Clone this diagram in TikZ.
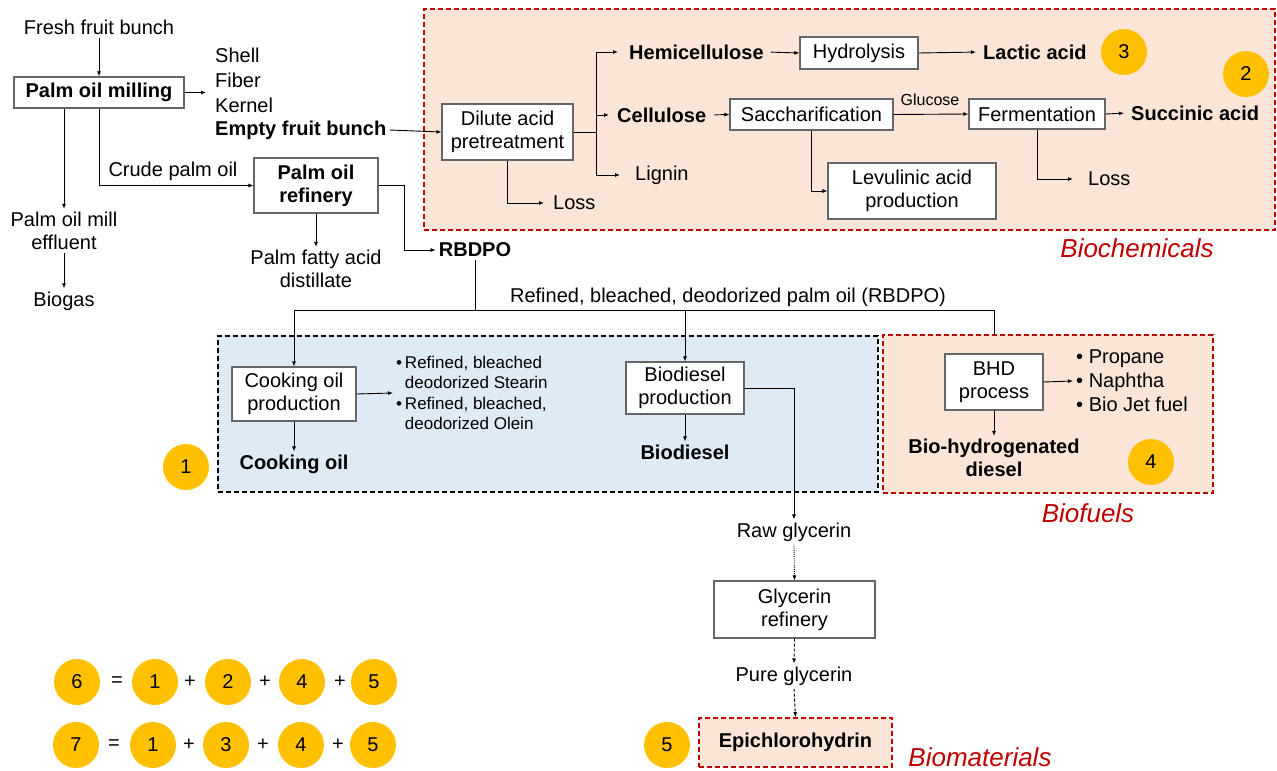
\documentclass[tikz,border=0pt]{standalone}
\usepackage{fontspec}
\setmainfont{Liberation Sans}
\usetikzlibrary{arrows.meta}
\definecolor{peach}{HTML}{FBE5D6}
\definecolor{lblue}{HTML}{DEEBF7}
\definecolor{dred}{HTML}{C00000}
\definecolor{gold}{HTML}{FFC000}
\newcommand\myfs{\fontsize{20}{23}\selectfont}
\newcommand\mysmall{\fontsize{17}{20.5}\selectfont}
\begin{document}
\begin{tikzpicture}[x=1pt,y=-1pt,
 font=\myfs,
 arr/.style={-{Latex[length=5pt,width=4pt]}, line width=0.9pt},
 ln/.style={line width=0.9pt},
 box/.style={draw=black!60, line width=1.1pt, fill=white, align=center, inner sep=0pt},
 lbl/.style={inner sep=3pt, align=center},
 bld/.style={lbl, font=\myfs\bfseries},
 circ/.style={circle, fill=gold, minimum size=46pt, inner sep=0pt},
 grp/.style={line width=1.8pt, dash pattern=on 5pt off 3pt, inner sep=0pt},
 cat/.style={text=dred, font=\fontsize{26}{30}\selectfont\itshape},
]
\useasboundingbox (0,0) rectangle (1277,771);

% group containers
\node[grp, draw=dred, fill=peach, minimum width=851pt, minimum height=221pt] (chembox) at (849.5,119.5) {};
\node[grp, draw=black, fill=lblue, minimum width=660pt, minimum height=156pt] (oilbox) at (548,414) {};
\node[grp, draw=dred, fill=peach, minimum width=330pt, minimum height=158pt] (fuelbox) at (1048,414) {};
\node[grp, draw=dred, fill=peach, minimum width=193pt, minimum height=49pt, font=\myfs\bfseries] (epi) at (795.5,742.5) {Epichlorohydrin};

% category labels
\node[cat] (catchem) at (1137,248) {Biochemicals};
\node[cat] (catfuel) at (1088,513) {Biofuels};
\node[cat] (catmat) at (980,757) {Biomaterials};

% milling area
\node[lbl] (ffb) at (99,27) {Fresh fruit bunch};
\node[box, minimum width=170pt, minimum height=31pt, font=\myfs\bfseries] (mill) at (99,92.5) {Palm oil milling};
\node[lbl, anchor=west] (shell) at (212,55) {Shell};
\node[lbl, anchor=west] (fiber) at (212,80) {Fiber};
\node[lbl, anchor=west] (kernel) at (212,105) {Kernel};
\node[bld, anchor=west] (efb) at (212,130) {Empty fruit bunch};
\coordinate (sfk) at (206,92.5);
\node[lbl] (effl) at (64,231) {Palm oil mill\\effluent};
\node[lbl] (biogas) at (64,301) {Biogas};
\node[lbl] (cpo) at (173,171) {Crude palm oil};
\node[box, minimum width=124pt, minimum height=55pt, font=\myfs\bfseries] (ref) at (316,185.5) {Palm oil\\refinery};
\node[lbl] (pfad) at (316,269) {Palm fatty acid\\distillate};
\node[bld] (rbdpo) at (475,250) {RBDPO};

\draw[arr] (ffb.south) -- (mill.north);
\draw[arr] (mill.east) -- (sfk);
\draw[arr] (mill.south -| effl.north) -- (effl.north);
\draw[arr] (effl.south) -- (biogas.north);
\draw[arr] (mill.south) |- (ref.west);
\draw[arr] (ref.south) -- (pfad.north);
\draw[arr] (ref.east) -- ++(26,0) |- (rbdpo.west);

% biochemicals
\node[box, minimum width=131pt, minimum height=56pt] (dil) at (507.5,132) {Dilute acid\\pretreatment};
\coordinate (split) at (596,132);
\node[bld, anchor=west] (hemi) at (626,52) {Hemicellulose};
\node[bld, anchor=west] (cell) at (614,115) {Cellulose};
\node[lbl, anchor=west] (lig) at (632,175) {Lignin};
\node[lbl, anchor=west] (loss1) at (550,203) {Loss};
\node[box, minimum width=118pt, minimum height=32pt] (hydro) at (859,53) {Hydrolysis};
\node[bld, anchor=west] (lactic) at (980,52) {Lactic acid};
\node[box, minimum width=163pt, minimum height=31pt] (sacch) at (811.5,114.5) {Saccharification};
\node[box, minimum width=136pt, minimum height=30pt] (ferm) at (1037,114) {Fermentation};
\node[lbl, font=\fontsize{16}{19}\selectfont] (gluc) at (930,100) {Glucose};
\node[bld, anchor=west] (succ) at (1128,113) {Succinic acid};
\node[lbl, anchor=west] (loss2) at (1085,179) {Loss};
\node[box, minimum width=168pt, minimum height=56pt] (levu) at (912,191) {Levulinic acid\\production};
\node[circ] (c3) at (1124,52) {3};
\node[circ] (c2) at (1246,74) {2};

\draw[arr] (efb.east) -- (dil.west);
\draw[ln] (dil.east) -- (split);
\draw[ln] (split |- hemi) -- (split |- lig);
\draw[arr, shorten >=8pt] (split |- hemi) -- (hemi.west);
\draw[arr, shorten >=5pt] (split |- cell) -- (cell.west);
\draw[arr, shorten >=12pt] (split |- lig) -- (lig.west);
\draw[arr, shorten >=6pt] (dil.south) |- (loss1.west);
\draw[arr, shorten <=4pt] (hemi.east) -- (hydro.west);
\draw[arr, shorten >=4pt] (hydro.east) -- (lactic.west);
\draw[arr, shorten <=5pt] (cell.east) -- (sacch.west);
\draw[arr] (sacch.east) -- (ferm.west);
\draw[arr, shorten >=4pt] (ferm.east) -- (succ.west);
\draw[arr, shorten >=12pt] (ferm.south) |- (loss2.west);
\draw[arr] (sacch.south) |- (levu.west);

% RBDPO distribution
\coordinate (hub) at (475,310);
\coordinate (fueltop) at (994,335);
\node[lbl] (rbdlbl) at (728,297) {Refined, bleached, deodorized palm oil (RBDPO)};

% cooking oil / biodiesel
\node[box, minimum width=124pt, minimum height=54pt] (cook) at (294,394) {Cooking oil\\production};
\node[lbl, anchor=west, align=left, font=\mysmall] (oils) at (393,393) {\textbullet\,Refined, bleached\\\hphantom{\textbullet\,}deodorized Stearin\\\textbullet\,Refined, bleached,\\\hphantom{\textbullet\,}deodorized Olein};
\node[bld] (cookoil) at (294,464) {Cooking oil};
\node[circ] (c1) at (186,467) {1};
\node[box, minimum width=118pt, minimum height=52pt] (biod) at (685,388) {Biodiesel\\production};
\node[bld] (biodiesel) at (685,452) {Biodiesel};

\draw[ln] (rbdpo.south) -- (hub);
\draw[arr] (hub) -| (cook.north);
\draw[arr] (hub) -| (biod.north);
\draw[ln] (hub) -| (fueltop);
\draw[arr] (cook.east) -- (oils.west);
\draw[arr] (cook.south) -- (cookoil.north);
\draw[arr] (biod.south) -- (biodiesel.north);

% biofuels
\node[box, minimum width=98pt, minimum height=56pt] (bhd) at (994,382) {BHD\\process};
\node[lbl, anchor=west, align=left, font=\fontsize{20}{24}\selectfont] (prods) at (1073,381) {• Propane\\• Naphtha\\• Bio Jet fuel};
\node[bld] (bhdd) at (994,458) {Bio-hydrogenated\\diesel};
\node[circ] (c4) at (1151,462) {4};
\draw[arr] (bhd.east) -- (prods.west);
\draw[arr] (bhd.south) -- (bhdd.north);

% glycerin
\node[lbl] (raw) at (794,532) {Raw glycerin};
\node[box, minimum width=161pt, minimum height=57pt] (gly) at (794.5,609.5) {Glycerin\\refinery};
\node[lbl] (pure) at (794,676) {Pure glycerin};
\node[circ] (c5) at (667,745) {5};
\draw[arr] (biod.east) -| (raw.north);
\draw[arr, densely dotted] (raw.south) -- (gly.north);
\draw[arr, dash pattern=on 3pt off 2pt] (gly.south) -- (pure.north);
\draw[arr, dash pattern=on 3pt off 2pt] (pure.south) -- (epi.north);

% equations
\node[circ] (e6) at (77,682) {6};
\node (eqa) at (117,682) {=};
\node[circ] (e6a) at (155,682) {1};
\node (pa1) at (190,682) {+};
\node[circ] (e6b) at (228,682) {2};
\node (pa2) at (265,682) {+};
\node[circ] (e6c) at (302,682) {4};
\node (pa3) at (340,682) {+};
\node[circ] (e6d) at (374,682) {5};

\node[circ] (e7) at (76,745) {7};
\node (eqb) at (114,745) {=};
\node[circ] (e7a) at (153,745) {1};
\node (pb1) at (189,745) {+};
\node[circ] (e7b) at (226,745) {3};
\node (pb2) at (263,745) {+};
\node[circ] (e7c) at (301,745) {4};
\node (pb3) at (338,745) {+};
\node[circ] (e7d) at (373,745) {5};
\end{tikzpicture}
\end{document}
